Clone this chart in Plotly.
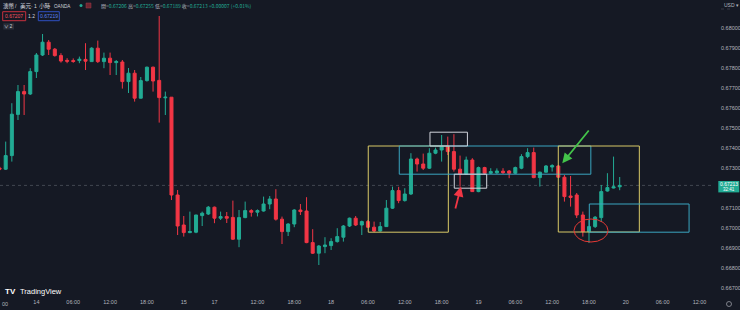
import plotly.graph_objects as go

# ---------------- data ----------------
bar_index = list(range(102))
opens = [0.67300, 0.67294, 0.67362, 0.67568, 0.67682, 0.67670, 0.67782, 0.67865, 0.67929, 0.67894,
         0.67862, 0.67838, 0.67837, 0.67837, 0.67843, 0.67832, 0.67899, 0.67832, 0.67849, 0.67827,
         0.67830, 0.67732, 0.67774, 0.67649, 0.67737, 0.67804, 0.67738, 0.67651, 0.67654, 0.67165,
         0.67015, 0.66977, 0.66979, 0.67062, 0.67070, 0.67104, 0.67049, 0.67057, 0.67053, 0.66944,
         0.67052, 0.67087, 0.67079, 0.67085, 0.67120, 0.67145, 0.67044, 0.66982, 0.67020, 0.67090,
         0.67085, 0.66927, 0.66874, 0.66907, 0.66912, 0.66932, 0.66954, 0.67010, 0.67049, 0.67015,
         0.67032, 0.67004, 0.66985, 0.67007, 0.67099, 0.67187, 0.67137, 0.67170, 0.67345, 0.67320,
         0.67299, 0.67374, 0.67390, 0.67410, 0.67382, 0.67294, 0.67269, 0.67340, 0.67182, 0.67302,
         0.67274, 0.67276, 0.67284, 0.67285, 0.67274, 0.67299, 0.67357, 0.67377, 0.67252, 0.67279,
         0.67305, 0.67310, 0.67254, 0.67160, 0.67165, 0.67065, 0.66982, 0.67007, 0.67052, 0.67185,
         0.67200, 0.67206]
highs = [0.67310, 0.67432, 0.67624, 0.67715, 0.67715, 0.67799, 0.67875, 0.67970, 0.67940, 0.67900,
         0.67874, 0.67849, 0.67848, 0.67857, 0.67924, 0.67904, 0.67937, 0.67877, 0.67877, 0.67840,
         0.67840, 0.67800, 0.67790, 0.67755, 0.67807, 0.67807, 0.68060, 0.67682, 0.67655, 0.67190,
         0.67060, 0.67082, 0.67066, 0.67082, 0.67110, 0.67107, 0.67082, 0.67080, 0.67137, 0.67090,
         0.67132, 0.67094, 0.67093, 0.67157, 0.67160, 0.67194, 0.67057, 0.67024, 0.67094, 0.67120,
         0.67154, 0.66994, 0.66915, 0.66954, 0.66949, 0.66999, 0.67015, 0.67052, 0.67060, 0.67037,
         0.67040, 0.67032, 0.67030, 0.67140, 0.67207, 0.67206, 0.67199, 0.67374, 0.67352, 0.67372,
         0.67399, 0.67402, 0.67465, 0.67457, 0.67469, 0.67362, 0.67357, 0.67349, 0.67307, 0.67306,
         0.67299, 0.67298, 0.67299, 0.67290, 0.67307, 0.67369, 0.67399, 0.67402, 0.67282, 0.67315,
         0.67319, 0.67315, 0.67265, 0.67260, 0.67175, 0.67082, 0.67040, 0.67060, 0.67215, 0.67274,
         0.67357, 0.67255]
lows = [0.67285, 0.67290, 0.67332, 0.67540, 0.67565, 0.67665, 0.67750, 0.67860, 0.67865, 0.67857,
        0.67827, 0.67824, 0.67826, 0.67824, 0.67790, 0.67831, 0.67825, 0.67799, 0.67765, 0.67765,
        0.67697, 0.67675, 0.67632, 0.67648, 0.67732, 0.67682, 0.67527, 0.67565, 0.67140, 0.66965,
        0.66957, 0.66974, 0.66974, 0.67010, 0.67065, 0.67024, 0.67040, 0.67025, 0.66940, 0.66904,
        0.67049, 0.67057, 0.67058, 0.67082, 0.67094, 0.67037, 0.66920, 0.66960, 0.67004, 0.67065,
        0.66924, 0.66870, 0.66815, 0.66874, 0.66890, 0.66927, 0.66932, 0.67005, 0.67010, 0.66965,
        0.67000, 0.66979, 0.66982, 0.67005, 0.67095, 0.67124, 0.67132, 0.67165, 0.67282, 0.67290,
        0.67295, 0.67369, 0.67332, 0.67365, 0.67282, 0.67207, 0.67265, 0.67180, 0.67179, 0.67265,
        0.67270, 0.67271, 0.67270, 0.67249, 0.67270, 0.67294, 0.67349, 0.67249, 0.67207, 0.67277,
        0.67282, 0.67250, 0.67132, 0.67107, 0.67050, 0.66957, 0.66925, 0.67000, 0.67030, 0.67182,
        0.67198, 0.67189]
closes = [0.67294, 0.67362, 0.67569, 0.67682, 0.67670, 0.67782, 0.67865, 0.67929, 0.67894, 0.67862,
          0.67835, 0.67834, 0.67833, 0.67844, 0.67834, 0.67899, 0.67832, 0.67849, 0.67827, 0.67832,
          0.67732, 0.67774, 0.67649, 0.67737, 0.67804, 0.67735, 0.67652, 0.67654, 0.67165, 0.67010,
          0.66977, 0.66982, 0.67065, 0.67074, 0.67104, 0.67049, 0.67057, 0.67049, 0.66944, 0.67052,
          0.67087, 0.67079, 0.67087, 0.67120, 0.67145, 0.67044, 0.66982, 0.67020, 0.67090, 0.67082,
          0.66927, 0.66874, 0.66910, 0.66915, 0.66932, 0.66957, 0.67010, 0.67049, 0.67015, 0.67032,
          0.67004, 0.66985, 0.67007, 0.67099, 0.67187, 0.67137, 0.67170, 0.67345, 0.67320, 0.67299,
          0.67374, 0.67390, 0.67410, 0.67382, 0.67294, 0.67269, 0.67340, 0.67182, 0.67302, 0.67274,
          0.67282, 0.67285, 0.67277, 0.67274, 0.67302, 0.67357, 0.67377, 0.67252, 0.67279, 0.67310,
          0.67312, 0.67254, 0.67157, 0.67153, 0.67065, 0.66982, 0.67007, 0.67054, 0.67182, 0.67202,
          0.67206, 0.67213]

time_tick_bars = [6, 12, 18, 24, 30, 35, 42, 48, 54, 60, 66, 72, 78, 84, 90, 96, 102, 108, 114]
time_tick_text = ["14", "06:00", "12:00", "18:00", "15", "17", "12:00", "18:00", "18", "06:00",
                  "12:00", "18:00", "19", "06:00", "12:00", "18:00", "20", "06:00", "12:00"]
price_ticks = [0.667, 0.668, 0.669, 0.670, 0.671, 0.673, 0.674, 0.675, 0.676, 0.677, 0.678, 0.679, 0.680]
last_price = 0.67213
header_ohlc = ["0.67206", "0.67255", "0.67189", "0.67213"]
header_change = "+0.00007 (+0.01%)"
sell_price, spread, buy_price = "0.67207", "1.2", "0.67219"

# ---------------- layout geometry ----------------
W, H = 740, 310
ML, MR, MT, MB = 0, 26, 0, 13
PW, PH = W - ML - MR, H - MT - MB

def fx(px):
    return (px - ML) / PW

def fy(py):
    return 1 - (py - MT) / PH

BG = "#151924"
UP = "#22ab94"
DOWN = "#f23645"
TXT = "#b2b5be"
FONT = "Liberation Sans, Noto Sans CJK TC, sans-serif"
CJK = "Noto Sans CJK TC, sans-serif"

fig = go.Figure()
fig.add_trace(go.Candlestick(
    x=bar_index, open=opens, high=highs, low=lows, close=closes,
    increasing=dict(line=dict(color=UP, width=1), fillcolor=UP),
    decreasing=dict(line=dict(color=DOWN, width=1), fillcolor=DOWN),
    whiskerwidth=0, showlegend=False, hoverinfo="skip"))

shapes = []
annotations = []

# current price dotted line
shapes.append(dict(type="line", xref="paper", yref="y", x0=0, x1=1, y0=last_price, y1=last_price,
                   line=dict(color="rgba(150,155,165,0.35)", width=1, dash="dot"), layer="below"))

# drawings
YEL = "#d8c967"
CYA = "#3aa6c0"
WHT = "#d1d4dc"
drawings = [
    dict(type="rect", x0=60.05, x1=73.09, y0=0.66979, y1=0.67410, line=dict(color=YEL, width=1)),
    dict(type="rect", x0=65.1, x1=96.3, y0=0.67269, y1=0.67410, line=dict(color=CYA, width=1)),
    dict(type="rect", x0=70.1, x1=76.2, y0=0.67410, y1=0.67479, line=dict(color=WHT, width=1)),
    dict(type="rect", x0=74.06, x1=79.34, y0=0.67199, y1=0.67269, line=dict(color=WHT, width=1)),
    dict(type="rect", x0=91.0, x1=104.2, y0=0.66980, y1=0.67410, line=dict(color=YEL, width=1)),
    dict(type="rect", x0=96.05, x1=112.3, y0=0.66979, y1=0.67120, line=dict(color=CYA, width=1)),
    dict(type="circle", x0=93.56, x1=99.1, y0=0.66930, y1=0.67045, line=dict(color="#e53935", width=1)),
]
for s in drawings:
    s["xref"] = "x"
    s["yref"] = "y"
shapes += drawings

# arrows
annotations.append(dict(x=75.15, y=0.67207, ax=74.18, ay=0.67090, xref="x", yref="y", axref="x", ayref="y",
                        text="", showarrow=True, arrowhead=2, arrowsize=1.1, arrowwidth=1.8, arrowcolor="#f23645"))
annotations.append(dict(x=91.65, y=0.67324, ax=96.16, ay=0.67495, xref="x", yref="y", axref="x", ayref="y",
                        text="", showarrow=True, arrowhead=2, arrowsize=1.1, arrowwidth=1.8, arrowcolor="#43c44a"))

def label(px, py, text, size=5.5, color=TXT, anchor="left", family=FONT):
    annotations.append(dict(xref="paper", yref="paper", x=fx(px), y=fy(py), text=text, showarrow=False,
                            xanchor=anchor, yanchor="middle", font=dict(size=size, color=color, family=family)))

# header title, laid out piece by piece as in the reference
TC = "#d1d4dc"
label(1.2, 6, "澳幣", size=5.6, color=TC, family=CJK)
label(15.8, 6, "/", size=5, color=TC, anchor="center")
label(17.8, 6, "美元", size=5.6, color=TC, family=CJK)
label(31.8, 6, "·", size=5, color=TC, anchor="center")
label(35.0, 6, "1", size=5, color=TC, anchor="center")
label(37.2, 6, "小時", size=5.6, color=TC, family=CJK)
label(50.2, 6, "·", size=5, color=TC, anchor="center")
label(52.2, 6, "OANDA", size=4.6, color=TC)
shapes.append(dict(type="circle", xref="paper", yref="paper", x0=fx(79.5), x1=fx(82.5), y0=fy(7), y1=fy(4),
                   fillcolor=UP, line=dict(width=0)))
shapes.append(dict(type="rect", xref="paper", yref="paper", x0=fx(86), x1=fx(91), y0=fy(8), y1=fy(3),
                   fillcolor="#6e2630", line=dict(color="#a33a48", width=0.5)))
g = UP
ohlc_txt = (f"開=<span style='color:{g}'>{header_ohlc[0]}</span> 高=<span style='color:{g}'>{header_ohlc[1]}</span> "
            f"低=<span style='color:{g}'>{header_ohlc[2]}</span> 收=<span style='color:{g}'>{header_ohlc[3]}</span> "
            f"<span style='color:{g}'>{header_change}</span>")
label(99, 6, ohlc_txt, size=5.0, color="#b2b5be", family=CJK)

shapes.append(dict(type="rect", xref="paper", yref="paper", x0=fx(2.7), x1=fx(25.7), y0=fy(20.7), y1=fy(11.7),
                   line=dict(color="#c8303e", width=1), fillcolor=BG))
label(14.2, 16.3, sell_price, size=5, color="#f7525f", anchor="center")
label(31.5, 16.3, spread, size=5, color="#d1d4dc", anchor="center")
shapes.append(dict(type="rect", xref="paper", yref="paper", x0=fx(38.3), x1=fx(59.3), y0=fy(20.7), y1=fy(11.7),
                   line=dict(color="#2f4fc0", width=1), fillcolor=BG))
label(48.8, 16.3, buy_price, size=5, color="#5b82f0", anchor="center")
shapes.append(dict(type="rect", xref="paper", yref="paper", x0=fx(3.3), x1=fx(14), y0=fy(29.5), y1=fy(23.3),
                   line=dict(width=0), fillcolor="#2a2e39"))
label(8.6, 26.5, "∨ 2", size=4.5, color="#d1d4dc", anchor="center")

# price axis extras
label(722, 5, "USD ▾", size=5, color=TXT)
shapes.append(dict(type="line", xref="paper", yref="paper", x0=fx(721), x1=fx(732), y0=fy(9), y1=fy(9),
                   line=dict(color="#50535e", width=0.6, dash="dot")))
shapes.append(dict(type="rect", xref="paper", yref="y", x0=fx(718.3), x1=fx(739.3),
                   y0=last_price - 0.00035, y1=last_price + 0.00022, fillcolor=UP, line=dict(width=0)))
annotations.append(dict(xref="paper", yref="y", x=fx(728.8), y=last_price + 0.00005, text=f"{last_price:.5f}",
                        showarrow=False, xanchor="center", yanchor="middle",
                        font=dict(size=5, color="#ffffff", family=FONT)))
annotations.append(dict(xref="paper", yref="y", x=fx(728.8), y=last_price - 0.00020, text="32:41",
                        showarrow=False, xanchor="center", yanchor="middle",
                        font=dict(size=4.5, color="#ffffff", family=FONT)))
shapes.append(dict(type="circle", xref="paper", yref="paper", x0=fx(726.5), x1=fx(731.5), y0=fy(306.5), y1=fy(301.5),
                   line=dict(color="#9598a1", width=0.8)))
# visible tail of the first (cut-off) time label
label(0.2, 304, "00", size=5.5, color=TXT, anchor="left")

# TradingView logo
label(3.0, 291.5, "<b>TV</b>", size=8, color="#ffffff")
label(18, 291.5, "TradingView", size=7.5, color="#ffffff")

fig.update_layout(
    width=W, height=H, margin=dict(l=ML, r=MR, t=MT, b=MB),
    paper_bgcolor=BG, plot_bgcolor=BG,
    shapes=shapes, annotations=annotations, showlegend=False,
    xaxis=dict(range=[0.0717, 116.36], rangeslider=dict(visible=False), showgrid=False, zeroline=False,
               tickmode="array", tickvals=time_tick_bars, ticktext=time_tick_text, ticks="",
               tickfont=dict(size=5.5, color=TXT, family=FONT), showline=False, fixedrange=True),
    yaxis=dict(range=[0.66655, 0.6814], side="right", showgrid=False, zeroline=False,
               tickmode="array", tickvals=price_ticks, tickformat=".5f", ticks="",
               tickfont=dict(size=5.5, color=TXT, family=FONT), showline=False, ticklabelstandoff=6),
)

fig.write_html("out.html")
